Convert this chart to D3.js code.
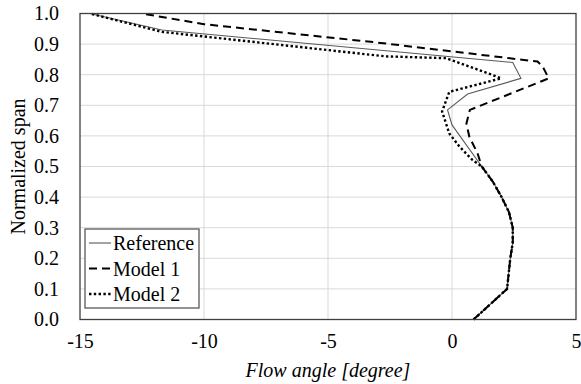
<!DOCTYPE html>
<html>
<head>
<meta charset="utf-8">
<script src="https://cdn.jsdelivr.net/npm/d3@7"></script>
<style>
  html, body { margin: 0; padding: 0; background: #fff; }
  svg { display: block; }
</style>
</head>
<body>
<svg id="chart" width="581" height="384"></svg>
<script>
// Spanwise flow angle profiles (span from hub 0 to tip 1)
const refSpan  = [0, 0.1, 0.2, 0.25, 0.3, 0.35, 0.4, 0.45, 0.5, 0.636, 0.685, 0.737, 0.788, 0.84, 0.946, 1.0];
const refAngle = [0.87, 2.22, 2.35, 2.45, 2.45, 2.3, 2.0, 1.65, 1.2, 0.0, -0.18, 0.63, 2.78, 2.45, -11.7, -14.6];

const m1Span  = [0, 0.1, 0.2, 0.25, 0.3, 0.35, 0.4, 0.45, 0.5, 0.543, 0.597, 0.64, 0.685, 0.788, 0.826, 0.843, 0.905, 0.965, 1.0];
const m1Angle = [0.87, 2.22, 2.35, 2.45, 2.45, 2.3, 2.0, 1.65, 1.2, 1.03, 0.7, 0.58, 0.72, 3.9, 3.66, 3.45, -3.0, -10.0, -12.5];

const m2Span  = [0, 0.1, 0.2, 0.25, 0.3, 0.35, 0.4, 0.45, 0.5, 0.521, 0.565, 0.608, 0.68, 0.744, 0.788, 0.799, 0.854, 0.86, 0.94, 1.0];
const m2Angle = [0.87, 2.22, 2.35, 2.45, 2.45, 2.3, 2.0, 1.65, 1.2, 0.83, 0.3, -0.11, -0.4, -0.11, 1.98, 1.64, -0.24, -2.7, -11.7, -14.6];

const seriesNames = ["Reference", "Model 1", "Model 2"];
const xTicks = [-15, -10, -5, 0, 5];
const yTicks = [0, 0.1, 0.2, 0.3, 0.4, 0.5, 0.6, 0.7, 0.8, 0.9, 1.0];

const FONT = "Liberation Serif";

const styles = [
  { stroke: "#595959", width: 1.1, dash: null },
  { stroke: "#000", width: 2, dash: "8,5" },
  { stroke: "#000", width: 2.4, dash: "2.4,2.4" }
];

const svg = d3.select("#chart");
const plot = { left: 80, top: 13.5, right: 576, bottom: 319.5 };

const x = d3.scaleLinear().domain([-15, 5]).range([plot.left, plot.right]);
const y = d3.scaleLinear().domain([0, 1]).range([plot.bottom, plot.top]);

// gridlines
const grid = svg.append("g");
grid.selectAll("line.v").data(xTicks.slice(1, -1)).join("line")
  .attr("x1", d => x(d)).attr("x2", d => x(d))
  .attr("y1", plot.top).attr("y2", plot.bottom)
  .attr("stroke", "#d9d9d9").attr("stroke-width", 1);
grid.selectAll("line.h").data(yTicks.slice(1, -1)).join("line")
  .attr("y1", d => y(d)).attr("y2", d => y(d))
  .attr("x1", plot.left).attr("x2", plot.right)
  .attr("stroke", "#d9d9d9").attr("stroke-width", 1);

// axes (labels only, frame drawn separately)
const xAxis = d3.axisBottom(x).tickValues(xTicks).tickSize(0).tickPadding(14)
  .tickFormat(d => d < 0 ? "-" + Math.abs(d) : String(d));
svg.append("g").attr("transform", `translate(0,${plot.bottom})`).call(xAxis)
  .call(g => g.select(".domain").remove())
  .selectAll("text").style("font-family", FONT).style("font-size", "20px").attr("fill", "#000");

const yAxis = d3.axisLeft(y).tickValues(yTicks).tickSize(0).tickPadding(21)
  .tickFormat(d3.format(".1f"));
svg.append("g").attr("transform", `translate(${plot.left},0)`).call(yAxis)
  .call(g => g.select(".domain").remove())
  .selectAll("text").style("font-family", FONT).style("font-size", "20px").attr("fill", "#000");

// series lines
const line = d3.line().x(d => x(d[0])).y(d => y(d[1]));
const data = [
  d3.zip(refAngle, refSpan),
  d3.zip(m1Angle, m1Span),
  d3.zip(m2Angle, m2Span)
];
data.forEach((pts, i) => {
  svg.append("path").datum(pts)
    .attr("d", line)
    .attr("fill", "none")
    .attr("stroke", styles[i].stroke)
    .attr("stroke-width", styles[i].width)
    .attr("stroke-dasharray", styles[i].dash)
    .attr("stroke-linejoin", "miter");
});

// plot frame
svg.append("rect")
  .attr("x", plot.left).attr("y", plot.top)
  .attr("width", plot.right - plot.left).attr("height", plot.bottom - plot.top)
  .attr("fill", "none").attr("stroke", "#404040").attr("stroke-width", 1.3);

// axis titles
svg.append("text")
  .attr("x", (plot.left + plot.right) / 2).attr("y", 377)
  .attr("text-anchor", "middle")
  .style("font-family", FONT).style("font-size", "20px").style("font-style", "italic")
  .text("Flow angle [degree]");
svg.append("text")
  .attr("transform", `translate(25,${(plot.top + plot.bottom) / 2}) rotate(-90)`)
  .attr("text-anchor", "middle")
  .style("font-family", FONT).style("font-size", "20px")
  .text("Normalized span");

// legend
const lg = svg.append("g").attr("transform", "translate(85,229)");
lg.append("rect").attr("width", 114).attr("height", 79)
  .attr("fill", "#fff").attr("stroke", "#595959").attr("stroke-width", 1.3);
seriesNames.forEach((name, i) => {
  const cy = 14 + i * 25.5;
  lg.append("line")
    .attr("x1", 4).attr("x2", 26).attr("y1", cy).attr("y2", cy)
    .attr("stroke", styles[i].stroke)
    .attr("stroke-width", styles[i].width)
    .attr("stroke-dasharray", styles[i].dash);
  lg.append("text").attr("x", 28).attr("y", cy + 7)
    .style("font-family", FONT).style("font-size", "20px").text(name);
});
</script>
</body>
</html>
